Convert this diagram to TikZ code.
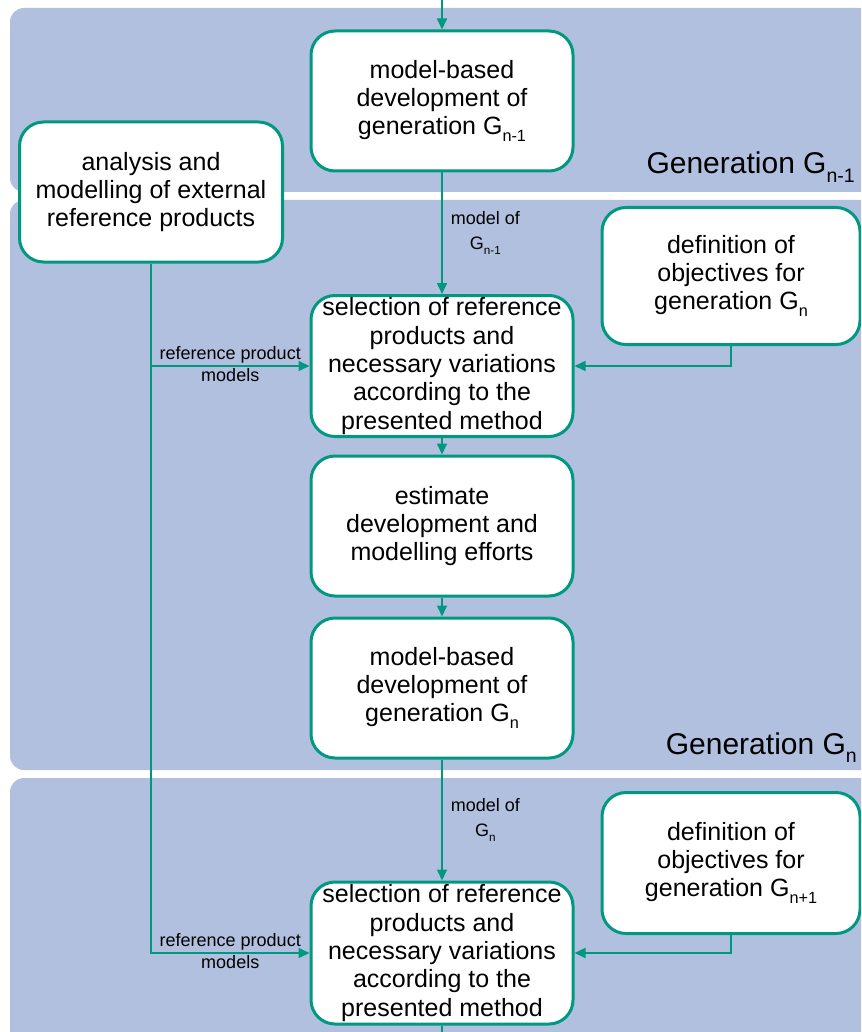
\documentclass[tikz,border=0pt]{standalone}
\usepackage{fontspec}
\setmainfont{Liberation Sans}
\usetikzlibrary{arrows.meta}
\definecolor{bandblue}{RGB}{178,192,224}
\definecolor{flowgreen}{RGB}{0,153,128}
\newcommand{\lowidx}[1]{\raisebox{-0.27em}{\scalebox{0.65}{#1}}}
\begin{document}
\begin{tikzpicture}[x=1pt,y=-1pt,
    box/.style={draw=flowgreen, line width=3pt, fill=white, rounded corners=24pt,
      minimum width=262pt, minimum height=140pt, inner sep=0pt, align=center,
      font=\fontsize{25}{28.3}\selectfont},
    link/.style={draw=flowgreen, line width=1.6pt},
    flow/.style={link, -{Triangle[length=11pt,width=10pt]}},
    lbl/.style={font=\fontsize{18}{25}\selectfont, align=center, inner sep=2pt},
    gen/.style={font=\fontsize{30}{36}\selectfont, anchor=base east, inner sep=0pt}]
  \useasboundingbox (0,0) rectangle (861,1032);
  \clip (0,0) rectangle (861,1032);
  % generation bands
  \foreach \top/\bottom in {8/192,200/770,778/1060} {
      \fill[bandblue, rounded corners=14pt] (10,\top) rectangle (900,\bottom);
    }
  \node[gen] (genA) at (855,174) {Generation G\lowidx{n-1}};
  \node[gen] (genB) at (857,754) {Generation G\lowidx{n}};
  % process steps
  \node[box] (devA) at (442,101) {model-based\\development of\\generation G\lowidx{n-1}};
  \node[box, minimum width=263pt] (anaExt) at (151,192) {analysis and\\modelling of external\\reference products};
  \node[box, minimum width=258pt, minimum height=137pt] (objA) at (731,276) {definition of\\objectives for\\generation G\lowidx{n}};
  \node[box, minimum height=141pt] (selA) at (442,366) {selection of reference\\products and\\necessary variations\\according to the\\presented method};
  \node[box] (estA) at (442,526) {estimate\\development and\\modelling efforts};
  \node[box] (devB) at (442,688) {model-based\\development of\\generation G\lowidx{n}};
  \node[box, minimum width=258pt, minimum height=141pt] (objB) at (731,863) {definition of\\objectives for\\generation G\lowidx{n+1}};
  \node[box, minimum height=142pt] (selB) at (442,953) {selection of reference\\products and\\necessary variations\\according to the\\presented method};
  \coordinate (inTop) at (442,-5);
  \coordinate (outBot) at (442,1040);
  % connectors
  \draw[flow] (inTop) -- (devA);
  \draw[flow] (devA) -- node[lbl, right=6pt] {model of\\G\lowidx{n-1}} (selA);
  \draw[flow] (selA) -- (estA);
  \draw[flow] (estA) -- (devB);
  \draw[flow] (devB) -- node[lbl, right=6pt] {model of\\G\lowidx{n}} (selB);
  \draw[link] (selB) -- (outBot);
  \draw[flow] (anaExt.south) |- node[lbl, above, pos=0.75] {reference product}
    node[lbl, below, pos=0.75] {models} (selB.west);
  \draw[flow] (anaExt.south |- selA.west) -- node[lbl, above] {reference product}
    node[lbl, below] {models} (selA.west);
  \draw[flow] (objA.south) |- (selA.east);
  \draw[flow] (objB.south) |- (selB.east);
\end{tikzpicture}
\end{document}
